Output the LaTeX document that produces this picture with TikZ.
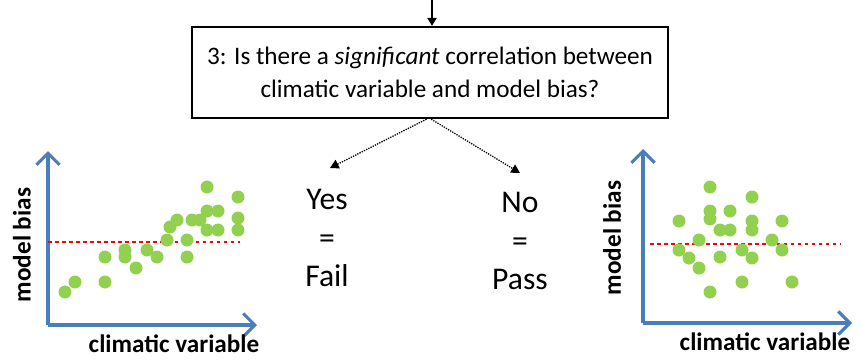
\documentclass[tikz,border=0pt]{standalone}
\usepackage{fontspec}
\setmainfont{Carlito}
\usetikzlibrary{positioning,arrows.meta}
\definecolor{axisblue}{RGB}{74,126,187}
\definecolor{dotgreen}{RGB}{146,208,80}
\tikzset{
  qbox/.style={draw, line width=2pt, align=center, minimum width=14.28cm,
    minimum height=2.73cm, inner sep=0pt, font=\fontsize{21.5}{28.5}\selectfont},
  answer/.style={align=center, font=\fontsize{27}{33}\selectfont},
  branch/.style={-{Triangle[length=2.6mm,width=2.8mm]}, densely dotted, line width=1.1pt},
  axis/.style={-{Straight Barb[length=3.5mm,width=7mm]}, axisblue, line width=2.6pt},
  biasline/.style={red, dashed, line width=0.9pt},
  axlabel/.style={font=\bfseries\fontsize{21.5}{24}\selectfont},
  dot/.style={fill=dotgreen},
}

\begin{document}
\begin{tikzpicture}[x=0.03cm, y=-0.03cm]
  \useasboundingbox (0,0) rectangle (861,359);
  % question box
  \node[qbox] (q) at (430,72.5) {3: Is there a \textit{significant} correlation between\\climatic variable and model bias?};
  \coordinate (qin) at (432,0);
  \draw[-{Triangle[length=2.4mm,width=2.8mm]}, line width=1.2pt] (qin) -- (q.north -| qin);
  % answers
  \node[answer] (yes) at (327,238) {Yes\\=\\Fail};
  \node[answer] (no) at (520,241) {No\\=\\Pass};
  \draw[branch] ([xshift=-3pt]q.south) -- (330,168);
  \draw[branch] ([xshift=1pt]q.south) -- (520,173);
  % left plot: correlated
  \coordinate (lo) at (48,325);
  \draw[axis] (lo) -- (48,151);
  \draw[axis] (lo) -- (257,325);
  \draw[biasline] (48,242) -- (240,242);
  \foreach \x/\y in {65/292,75/282,105/282,105/257,125/250,125/257,136/268,
      147/250,157/257,167/240,170/227,177/220,187/240,187/257,192/220,200/220,
      207/187,207/211,207/230,218/211,218/230,238/197,238/218,238/230}
    \fill[dot] (\x,\y) circle (6.5);
  \node[axlabel, rotate=90] (lyl) at (22,245) {model bias};
  \node[axlabel] (lxl) at (174,344) {climatic variable};
  % right plot: no correlation
  \coordinate (ro) at (643,323);
  \draw[axis] (ro) -- (643,149);
  \draw[axis] (ro) -- (852,323);
  \draw[biasline] (650,244) -- (840,244);
  \foreach \x/\y in {710/187,752/197,710/211,730/211,679/221,710/219,752/221,
      782/221,720/230,730/230,752/230,699/240,772/240,679/250,742/250,782/250,
      689/258,720/257,752/258,699/268,742/282,792/282,710/292}
    \fill[dot] (\x,\y) circle (6.5);
  \node[axlabel, rotate=90] (ryl) at (612,238) {model bias};
  \node[axlabel] (rxl) at (765,342) {climatic variable};
\end{tikzpicture}
\end{document}
